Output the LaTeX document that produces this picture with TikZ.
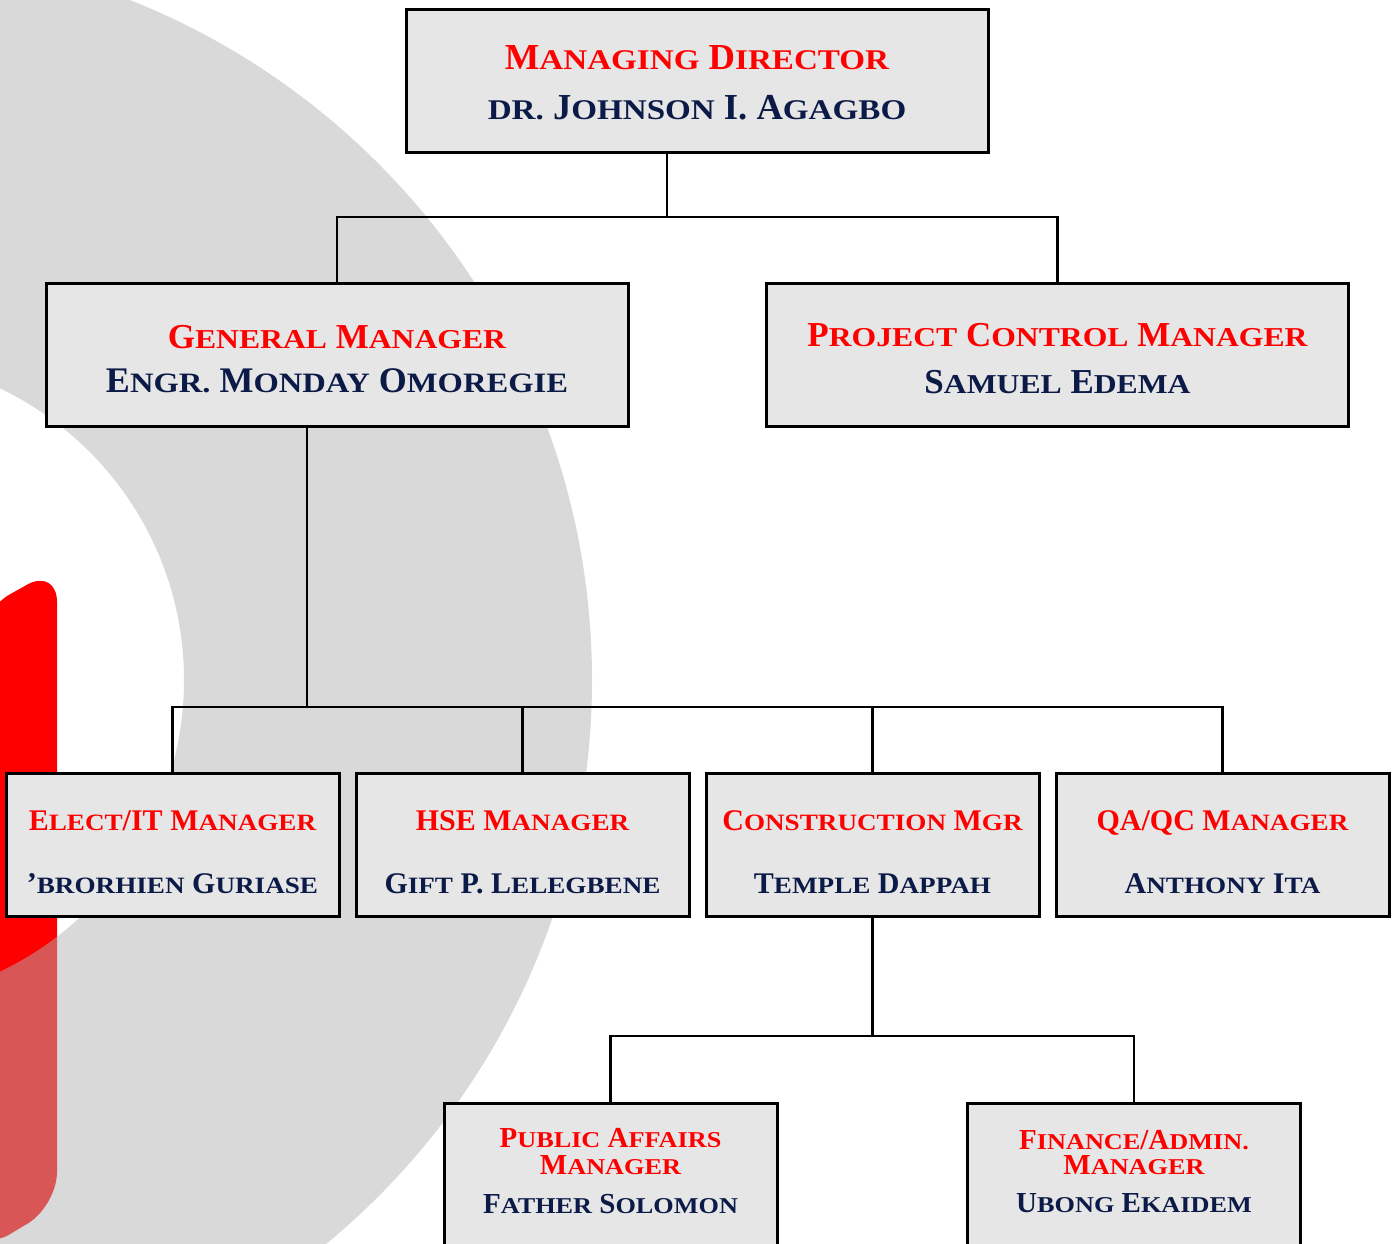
\documentclass[tikz,border=0pt]{standalone}
\usepackage{fontspec}
\setmainfont{Liberation Serif}
\newfontfamily\orgfont{Liberation Serif}
\newfontfamily\orgwide[FakeStretch=1.16]{Liberation Serif}

\definecolor{orgred}{RGB}{255,0,0}
\definecolor{orgnavy}{RGB}{12,26,72}
\definecolor{boxfill}{RGB}{230,230,230}
\definecolor{ringgray}{RGB}{177,177,177}

% fake small capitals
\makeatletter
\newlength\lcsize
\newcommand{\lc}[1]{{\lcsize=\f@size pt\lcsize=0.78\lcsize\orgwide\fontsize{\lcsize}{\lcsize}\selectfont#1}}
\makeatother
\newcommand{\role}[1]{\textcolor{orgred}{#1}}
\newcommand{\who}[1]{\textcolor{orgnavy}{#1}}

% text depth 0pt: text height puts the last baseline below the centre
\tikzset{
  orgbox/.style={draw=black, line width=1.5pt, fill=boxfill, minimum height=71.5pt,
    inner sep=0pt, align=center, text depth=0pt},
  bigbox/.style={orgbox, minimum width=291pt, text height=38.5pt,
    font=\orgfont\bfseries\fontsize{17.5}{25}\selectfont},
  smallbox/.style={orgbox, minimum width=166.5pt, text height=48.5pt,
    font=\orgfont\bfseries\fontsize{15}{31.5}\selectfont},
  lowbox/.style={orgbox, minimum width=166.5pt, text height=38.5pt,
    font=\orgfont\bfseries\fontsize{14.5}{13.5}\selectfont},
  link/.style={line width=1.3pt, draw=black},
}

\begin{document}
\begin{tikzpicture}[x=0.5pt,y=-0.5pt]
        \useasboundingbox (0,0) rectangle (1395,1243);
        \clip (0,0) rectangle (1395,1243);

        % background: red bar and ring
        \fill[orgred, rounded corners=17pt]
          (-20,611) -- (57,568) -- (57,1206) -- (-20,1252) -- cycle;
        \fill[ringgray, fill opacity=0.49, even odd rule]
          (-139,680) circle[radius=731] (-139,680) circle[radius=323];

        % boxes
        \node (md) at (697,80.5) [bigbox, font=\orgfont\bfseries\fontsize{18.3}{25}\selectfont]
          {\role{M\lc{ANAGING} D\lc{IRECTOR}}\\
           \who{\lc{DR.} J\lc{OHNSON} I. A\lc{GAGBO}}};
        \node (gm) at (337,354.5) [bigbox, text height=37.5pt]
          {\role{G\lc{ENERAL} M\lc{ANAGER}}\\[-3pt]
           \who{\fontsize{18}{22}\selectfont E\lc{NGR.} M\lc{ONDAY} O\lc{MOREGIE}}};
        \node (pcm) at (1057.5,354.5) [bigbox]
          {\role{P\lc{ROJECT} C\lc{ONTROL} M\lc{ANAGER}}\\[-1.5pt]
           \who{S\lc{AMUEL} E\lc{DEMA}}};

        \node (elect) at (172.5,844.5) [smallbox]
          {\role{E\lc{LECT}/IT M\lc{ANAGER}}\\
           \who{’\lc{BRORHIEN} G\lc{URIASE}}};
        \node (hse) at (522.5,844.5) [smallbox]
          {\role{HSE M\lc{ANAGER}}\\
           \who{G\lc{IFT} P. L\lc{ELEGBENE}}};
        \node (con) at (872.5,844.5) [smallbox]
          {\role{C\lc{ONSTRUCTION} M\lc{GR}}\\
           \who{T\lc{EMPLE} D\lc{APPAH}}};
        \node (qa) at (1222.5,844.5) [smallbox]
          {\role{QA/QC M\lc{ANAGER}}\\
           \who{A\lc{NTHONY} I\lc{TA}}};

        \node (pub) at (610.5,1174.5) [lowbox]
          {\role{P\lc{UBLIC} A\lc{FFAIRS}}\\
           \role{M\lc{ANAGER}}\\[6pt]
           \who{F\lc{ATHER} S\lc{OLOMON}}};
        \node (fin) at (1134,1174.5) [lowbox, text height=37.5pt]
          {\role{F\lc{INANCE}/A\lc{DMIN.}}\\[-1pt]
           \role{M\lc{ANAGER}}\\[5.5pt]
           \who{U\lc{BONG} E\lc{KAIDEM}}};

        % junctions
        \coordinate (mdj) at (667,217);
        \coordinate (gmj) at (307,707);
        \coordinate (conj) at (872.5,1036);

        % connectors
        \draw[link] (md.south -| mdj) -- (mdj);
        \draw[link] (gm.north) |- (mdj) -| (pcm.north);
        \draw[link] (gm.south -| gmj) -- (gmj);
        \draw[link] (elect.north) |- (gmj) -| (qa.north);
        \foreach \k in {hse,con}
                 {
                   \draw[link] (\k.north) -- (\k.north |- gmj);
                 }
        \draw[link] (con.south) -- (conj);
        \draw[link] (pub.north) |- (conj) -| (fin.north);
\end{tikzpicture}
\end{document}
